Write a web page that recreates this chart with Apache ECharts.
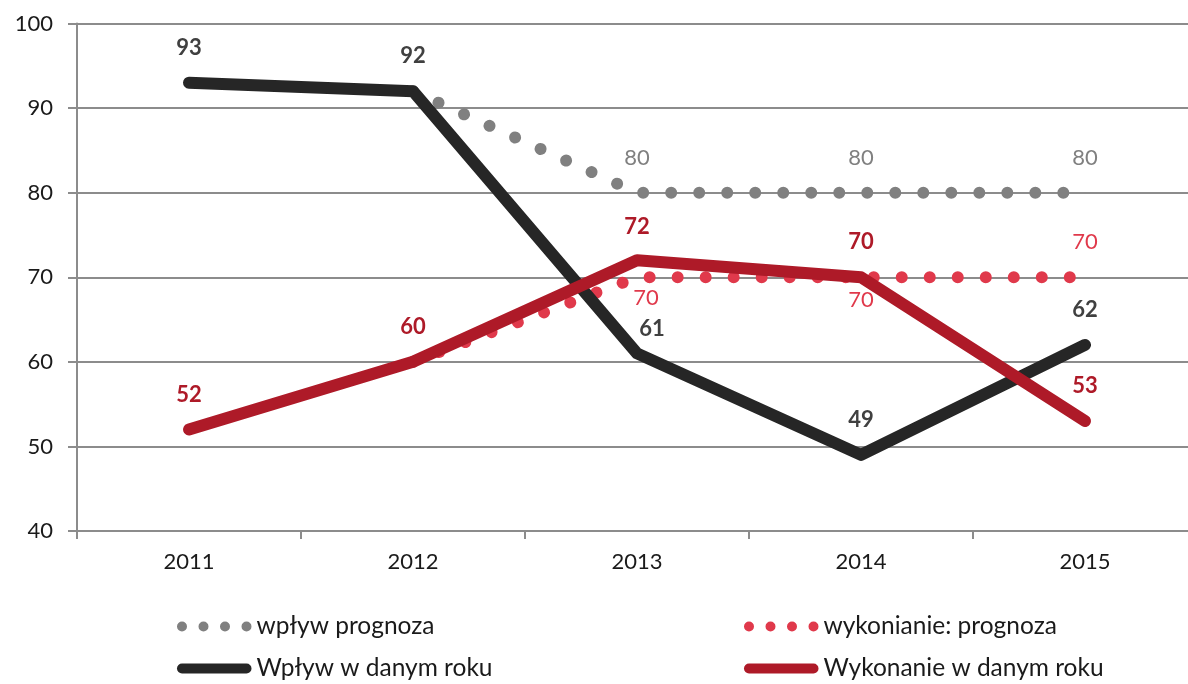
<!DOCTYPE html>
<html>
<head>
<meta charset="utf-8">
<script src="https://cdn.jsdelivr.net/npm/echarts@6/dist/echarts.min.js"></script>
<style>
  html, body { margin: 0; padding: 0; background: #fff; }
  #chart { width: 1188px; height: 684px; }
</style>
</head>
<body>
<div id="chart"></div>
<script>
// dane
var years = ['2011', '2012', '2013', '2014', '2015'];
var wplywPrognoza = ['-', 92, 80, 80, 80];
var wykonaniePrognoza = ['-', 60, 70, 70, 70];
var wplyw = [93, 92, 61, 49, 62];
var wykonanie = [52, 60, 72, 70, 53];
var yTicks = [40, 50, 60, 70, 80, 90, 100];

var FONT = 'Lato, "Open Sans", sans-serif';

var dotsIcon = 'path://M0,5a5,5 0 1,0 10,0a5,5 0 1,0 -10,0Z' +
  'M21.5,5a5,5 0 1,0 10,0a5,5 0 1,0 -10,0Z' +
  'M43,5a5,5 0 1,0 10,0a5,5 0 1,0 -10,0Z' +
  'M64.5,5a5,5 0 1,0 10,0a5,5 0 1,0 -10,0Z';
var lineIcon = 'path://M5,0H69.5A5,5 0 0,1 69.5,10H5A5,5 0 0,1 5,0Z';

// etykiety tylko dla wybranych punktów
function withLabels(values, cfg) {
  return values.map(function (v, i) {
    var c = cfg[i];
    if (!c) return { value: v, label: { show: false } };
    return { value: v, label: Object.assign({ show: true }, c) };
  });
}

var chart = echarts.init(document.getElementById('chart'));

var legendText = { fontSize: 24.5, color: '#1a1a1a', fontFamily: FONT };
function legendAt(name, icon, left, top) {
  return {
    data: [name],
    icon: icon,
    left: left,
    top: top,
    itemWidth: 74.5,
    itemHeight: 10,
    itemGap: 0,
    padding: 0,
    itemStyle: { borderWidth: 0 },
    textStyle: legendText,
    selectedMode: false
  };
}

var option = {
  animation: false,
  grid: { left: 77, right: -9, top: 23.5, bottom: 153, outerBoundsMode: 'none' },
  legend: [
    legendAt('wpływ prognoza', dotsIcon, 177, 614),
    legendAt('wykonianie: prognoza', dotsIcon, 744, 614),
    legendAt('Wpływ w danym roku', lineIcon, 177, 656),
    legendAt('Wykonanie w danym roku', lineIcon, 744, 656)
  ],
  xAxis: {
    type: 'category',
    data: years,
    boundaryGap: true,
    axisLine: { show: true, lineStyle: { color: '#8c8c8c', width: 2 } },
    axisTick: { show: true, length: 8, lineStyle: { color: '#8c8c8c', width: 2 } },
    axisLabel: { fontSize: 22, color: '#1a1a1a', fontFamily: FONT, margin: 20 }
  },
  yAxis: {
    type: 'value',
    min: yTicks[0],
    max: yTicks[yTicks.length - 1],
    interval: 10,
    axisLine: { show: true, lineStyle: { color: '#8c8c8c', width: 2 } },
    axisTick: { show: true, length: 9, lineStyle: { color: '#8c8c8c', width: 2 } },
    axisLabel: { fontSize: 22, color: '#1a1a1a', fontFamily: FONT, margin: 24 },
    splitLine: { show: true, lineStyle: { color: '#8c8c8c', width: 2 } }
  },
  series: [
    {
      name: 'wpływ prognoza',
      type: 'line',
      color: '#808080',
      symbol: 'circle',
      symbolSize: 0.1,
      z: 2,
      lineStyle: { color: '#808080', width: 12, type: [0.01, 28], cap: 'round' },
      label: { fontSize: 22, color: '#808080', fontFamily: FONT },
      data: withLabels(wplywPrognoza, {
        2: { position: 'top', distance: 24 },
        3: { position: 'top', distance: 24 },
        4: { position: 'top', distance: 24 }
      })
    },
    {
      name: 'wykonianie: prognoza',
      type: 'line',
      color: '#e0394b',
      symbol: 'circle',
      symbolSize: 0.1,
      z: 2,
      lineStyle: { color: '#e0394b', width: 12, type: [0.01, 28], cap: 'round' },
      label: { fontSize: 22, color: '#e0394b', fontFamily: FONT },
      data: withLabels(wykonaniePrognoza, {
        2: { position: 'bottom', distance: 10, offset: [9, 0] },
        3: { position: 'bottom', distance: 12 },
        4: { position: 'top', distance: 24 }
      })
    },
    {
      name: 'Wpływ w danym roku',
      type: 'line',
      color: '#262626',
      symbol: 'circle',
      symbolSize: 0.1,
      z: 3,
      lineStyle: { color: '#262626', width: 12, cap: 'round', join: 'round' },
      label: { fontSize: 22, fontWeight: 'bold', color: '#404040', fontFamily: FONT },
      data: withLabels(wplyw, {
        0: { position: 'top', distance: 24 },
        1: { position: 'top', distance: 24 },
        2: { position: 'top', distance: 13, offset: [15, 0] },
        3: { position: 'top', distance: 24 },
        4: { position: 'top', distance: 24 }
      })
    },
    {
      name: 'Wykonanie w danym roku',
      type: 'line',
      color: '#ae1a28',
      symbol: 'circle',
      symbolSize: 0.1,
      z: 4,
      lineStyle: { color: '#ae1a28', width: 12, cap: 'round', join: 'round' },
      label: { fontSize: 22, fontWeight: 'bold', color: '#ae1a28', fontFamily: FONT },
      data: withLabels(wykonanie, {
        0: { position: 'top', distance: 24 },
        1: { position: 'top', distance: 24 },
        2: { position: 'top', distance: 22 },
        3: { position: 'top', distance: 24 },
        4: { position: 'top', distance: 24 }
      })
    }
  ]
};

chart.setOption(option);
window.addEventListener('resize', function () {
  chart.resize();
});
</script>
</body>
</html>
